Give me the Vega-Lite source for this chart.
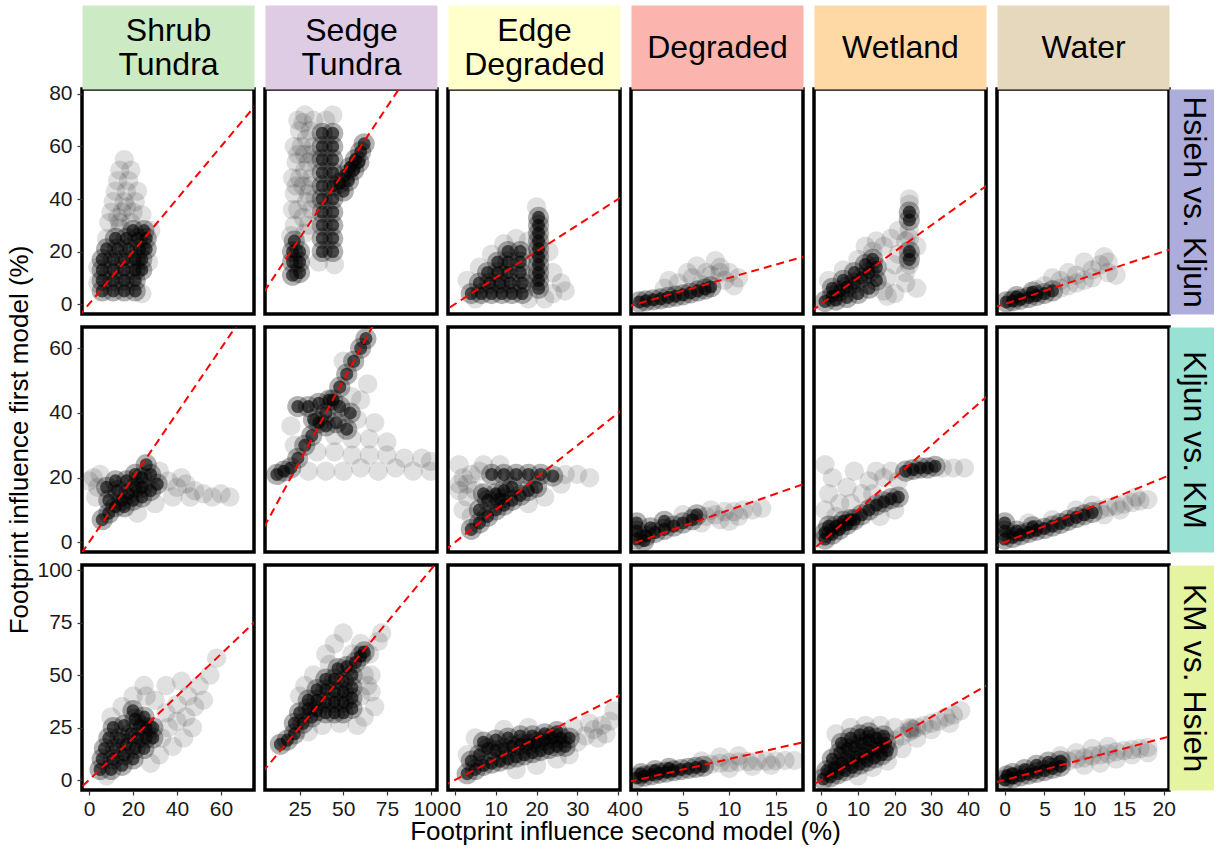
{
"$schema":"https://vega.github.io/schema/vega-lite/v6.json",
"background":"white",
"padding":{"left":4,"top":12,"right":2,"bottom":2},
"columns":6,
"spacing":{"row":13,"column":11},
"bounds":"flush",
"config":{
 "view":{"stroke":"black","strokeWidth":3.5},
 "font":"Liberation Sans",
 "axis":{"grid":false,"domain":false,"labelFont":"Liberation Sans","labelFontSize":21,"labelColor":"#1a1a1a","tickColor":"#333333","tickSize":5,"tickWidth":1.2,"labelFlush":false,"labelOverlap":false,"titleFont":"Liberation Sans","titleFontWeight":"normal","titleColor":"black","titleFontSize":26},
 "axisX":{"labelPadding":3},
 "axisY":{"labelPadding":5}
},
"datasets":{
 "oneToOne":[{"x":-20,"y":-20,"x2":200,"y2":200}],
 "hk_shrub_core":[{"x":6,"y":5},{"x":11,"y":5},{"x":16,"y":5},{"x":21,"y":5},{"x":6,"y":9},{"x":11,"y":9},{"x":16,"y":9},{"x":21,"y":9},{"x":6,"y":13},{"x":11,"y":13},{"x":16,"y":13},{"x":21,"y":13},{"x":24,"y":13},{"x":6,"y":17},{"x":11,"y":17},{"x":16,"y":17},{"x":21,"y":17},{"x":24,"y":17},{"x":8,"y":21},{"x":13,"y":21},{"x":18,"y":21},{"x":23,"y":21},{"x":26,"y":21},{"x":12,"y":25},{"x":17,"y":25},{"x":22,"y":25},{"x":26,"y":25},{"x":20,"y":28},{"x":25,"y":28}],
 "hk_shrub_halo":[{"x":9,"y":31},{"x":14,"y":31},{"x":19,"y":31},{"x":10,"y":35},{"x":15,"y":35},{"x":20,"y":35},{"x":24,"y":34},{"x":11,"y":39},{"x":16,"y":39},{"x":21,"y":39},{"x":12,"y":43},{"x":17,"y":43},{"x":22,"y":43},{"x":13,"y":47},{"x":18,"y":47},{"x":14,"y":51},{"x":19,"y":51},{"x":16,"y":55},{"x":4,"y":8},{"x":4,"y":14},{"x":27,"y":16},{"x":28,"y":28},{"x":24,"y":4},{"x":8,"y":25},{"x":14,"y":29},{"x":17,"y":37},{"x":13,"y":33}],
 "hk_sedge_core":[{"x":21,"y":11},{"x":25,"y":12},{"x":21,"y":16},{"x":25,"y":16},{"x":21,"y":20},{"x":25,"y":20},{"x":22,"y":24},{"x":38,"y":20},{"x":38,"y":25},{"x":38,"y":30},{"x":38,"y":35},{"x":38,"y":40},{"x":38,"y":45},{"x":38,"y":50},{"x":38,"y":55},{"x":38,"y":60},{"x":38,"y":65},{"x":44,"y":20},{"x":44,"y":25},{"x":44,"y":30},{"x":44,"y":35},{"x":44,"y":40},{"x":44,"y":45},{"x":44,"y":50},{"x":44,"y":55},{"x":44,"y":60},{"x":44,"y":65},{"x":48,"y":46},{"x":51,"y":49},{"x":54,"y":52},{"x":57,"y":55},{"x":60,"y":58},{"x":62,"y":61},{"x":50,"y":43},{"x":53,"y":47},{"x":56,"y":51},{"x":59,"y":54}],
 "hk_sedge_halo":[{"x":22,"y":30},{"x":30,"y":30},{"x":24,"y":36},{"x":32,"y":36},{"x":22,"y":42},{"x":30,"y":42},{"x":25,"y":48},{"x":32,"y":48},{"x":23,"y":54},{"x":30,"y":54},{"x":26,"y":60},{"x":33,"y":60},{"x":25,"y":66},{"x":31,"y":66},{"x":28,"y":72},{"x":27,"y":33},{"x":27,"y":45},{"x":28,"y":57},{"x":40,"y":70},{"x":44,"y":72},{"x":36,"y":16},{"x":45,"y":15},{"x":34,"y":40},{"x":34,"y":55},{"x":24,"y":70},{"x":20,"y":26},{"x":28,"y":27},{"x":21,"y":36},{"x":29,"y":39},{"x":21,"y":48},{"x":28,"y":51},{"x":22,"y":60},{"x":29,"y":63},{"x":27,"y":69},{"x":33,"y":70},{"x":23,"y":45},{"x":31,"y":45},{"x":24,"y":57},{"x":32,"y":57}],
 "hk_edge_core":[{"x":4,"y":4},{"x":6.5,"y":4},{"x":9,"y":4},{"x":11.5,"y":4},{"x":14,"y":4},{"x":16.5,"y":4},{"x":6,"y":8},{"x":8.5,"y":8},{"x":11,"y":8},{"x":13.5,"y":8},{"x":16.5,"y":8},{"x":8,"y":12},{"x":10.5,"y":12},{"x":13,"y":12},{"x":16,"y":12},{"x":10.5,"y":16},{"x":13,"y":16},{"x":16,"y":16},{"x":13,"y":20},{"x":16,"y":20},{"x":20.5,"y":6},{"x":20.5,"y":9},{"x":20.5,"y":12},{"x":20.5,"y":15},{"x":20.5,"y":18},{"x":20.5,"y":21},{"x":20.5,"y":24},{"x":20.5,"y":27},{"x":20.5,"y":30},{"x":20.5,"y":33}],
 "hk_edge_halo":[{"x":3,"y":9},{"x":6,"y":14},{"x":9,"y":19},{"x":12,"y":23},{"x":15,"y":25},{"x":20,"y":37},{"x":24,"y":4},{"x":26,"y":8},{"x":24,"y":12},{"x":27,"y":5},{"x":5,"y":2},{"x":18,"y":2},{"x":22,"y":2},{"x":18,"y":24},{"x":23,"y":20},{"x":19,"y":10}],
 "hk_degraded_core":[{"x":0.3,"y":0.8},{"x":1,"y":1.2},{"x":1.8,"y":1.6},{"x":2.6,"y":2},{"x":3.4,"y":2.5},{"x":4.2,"y":3},{"x":5,"y":3.5},{"x":5.8,"y":4.2},{"x":6.6,"y":5},{"x":7.4,"y":5.7},{"x":8,"y":6.5}],
 "hk_degraded_halo":[{"x":3,"y":6},{"x":4.5,"y":8},{"x":6,"y":10},{"x":7.5,"y":12},{"x":9,"y":14},{"x":8.5,"y":16.5},{"x":10,"y":12},{"x":5.5,"y":12},{"x":7,"y":7.5},{"x":9.5,"y":9},{"x":11,"y":10},{"x":3.5,"y":9},{"x":6.5,"y":14.5},{"x":10.5,"y":7},{"x":8,"y":11},{"x":9,"y":12}],
 "hk_wetland_core":[{"x":1,"y":1},{"x":3,"y":3},{"x":5,"y":5},{"x":7,"y":6.5},{"x":9,"y":8},{"x":11,"y":10},{"x":13,"y":12},{"x":15,"y":14},{"x":3,"y":6},{"x":6,"y":9},{"x":9,"y":12},{"x":12,"y":15},{"x":14,"y":17},{"x":4,"y":1.5},{"x":7,"y":2.5},{"x":10,"y":4},{"x":13,"y":6},{"x":15,"y":9},{"x":24,"y":17},{"x":24,"y":20},{"x":24,"y":32},{"x":24,"y":35}],
 "hk_wetland_halo":[{"x":17,"y":22},{"x":14,"y":20},{"x":19,"y":25},{"x":20,"y":15},{"x":18,"y":10},{"x":17,"y":5},{"x":10,"y":17},{"x":6,"y":13},{"x":21,"y":28},{"x":23,"y":24},{"x":23,"y":12},{"x":23,"y":8},{"x":24,"y":28},{"x":24,"y":38},{"x":24,"y":40},{"x":18,"y":3},{"x":26,"y":22},{"x":26,"y":6},{"x":2,"y":9},{"x":15,"y":24},{"x":12,"y":22},{"x":21,"y":19},{"x":20,"y":4},{"x":24,"y":15},{"x":24,"y":25}],
 "hk_water_core":[{"x":0.2,"y":0.8},{"x":1,"y":1.2},{"x":2,"y":1.8},{"x":3,"y":2.5},{"x":4,"y":3.2},{"x":5,"y":4},{"x":6,"y":5},{"x":1.5,"y":2.8},{"x":3.5,"y":4.5}],
 "hk_water_halo":[{"x":5,"y":7},{"x":7,"y":6},{"x":7,"y":9},{"x":9,"y":8},{"x":9,"y":11},{"x":11,"y":10},{"x":11,"y":13},{"x":12,"y":15},{"x":13,"y":12},{"x":8,"y":12},{"x":10,"y":16},{"x":6,"y":10},{"x":4,"y":5.5},{"x":13,"y":16},{"x":12.5,"y":18},{"x":14,"y":11},{"x":8,"y":7},{"x":10,"y":9}],
 "kk_shrub_core":[{"x":6,"y":7},{"x":9,"y":9},{"x":12,"y":11},{"x":15,"y":13},{"x":18,"y":15},{"x":21,"y":17},{"x":24,"y":20},{"x":26,"y":24},{"x":9,"y":13},{"x":13,"y":16},{"x":17,"y":19},{"x":21,"y":21},{"x":16,"y":11},{"x":20,"y":13},{"x":24,"y":14},{"x":28,"y":16},{"x":31,"y":18},{"x":28,"y":21},{"x":24,"y":17},{"x":12,"y":19},{"x":8,"y":17}],
 "kk_shrub_halo":[{"x":2,"y":20},{"x":4,"y":17},{"x":0,"y":19},{"x":36,"y":19},{"x":40,"y":17},{"x":44,"y":18},{"x":48,"y":16},{"x":52,"y":15},{"x":56,"y":14},{"x":60,"y":15},{"x":64,"y":14},{"x":38,"y":14},{"x":46,"y":14},{"x":30,"y":12},{"x":22,"y":9},{"x":5,"y":21},{"x":32,"y":22},{"x":42,"y":20},{"x":3,"y":14}],
 "kk_sedge_core":[{"x":12,"y":21},{"x":16,"y":22},{"x":20,"y":23},{"x":24,"y":26},{"x":28,"y":30},{"x":32,"y":33},{"x":36,"y":37},{"x":40,"y":40},{"x":44,"y":44},{"x":48,"y":48},{"x":52,"y":52},{"x":56,"y":56},{"x":60,"y":60},{"x":63,"y":63},{"x":24,"y":42},{"x":30,"y":42},{"x":36,"y":43},{"x":42,"y":44},{"x":48,"y":42},{"x":54,"y":40},{"x":33,"y":38},{"x":40,"y":36},{"x":46,"y":37},{"x":52,"y":35}],
 "kk_sedge_halo":[{"x":30,"y":22},{"x":40,"y":22},{"x":50,"y":22},{"x":60,"y":23},{"x":70,"y":22},{"x":80,"y":23},{"x":90,"y":22},{"x":100,"y":22},{"x":35,"y":28},{"x":45,"y":28},{"x":55,"y":27},{"x":65,"y":27},{"x":75,"y":27},{"x":85,"y":26},{"x":95,"y":26},{"x":45,"y":33},{"x":55,"y":32},{"x":65,"y":32},{"x":75,"y":31},{"x":58,"y":38},{"x":68,"y":37},{"x":55,"y":45},{"x":22,"y":30},{"x":20,"y":36},{"x":50,"y":56},{"x":64,"y":49},{"x":100,"y":25},{"x":60,"y":44}],
 "kk_edge_core":[{"x":9,"y":21},{"x":12,"y":21},{"x":15,"y":21},{"x":18,"y":21},{"x":21,"y":21},{"x":24,"y":20.5},{"x":4,"y":4},{"x":6,"y":6},{"x":8,"y":8},{"x":10,"y":10},{"x":12,"y":11.5},{"x":14,"y":13},{"x":16,"y":14.5},{"x":18,"y":16},{"x":20,"y":17},{"x":6,"y":10},{"x":8,"y":13},{"x":10,"y":15},{"x":12,"y":16},{"x":14,"y":17},{"x":7,"y":15},{"x":11,"y":13.5}],
 "kk_edge_halo":[{"x":1,"y":24},{"x":2,"y":20},{"x":4,"y":21},{"x":6,"y":22},{"x":1,"y":16},{"x":3,"y":14},{"x":5,"y":16},{"x":2,"y":10},{"x":4,"y":8},{"x":27,"y":21},{"x":30,"y":21},{"x":33,"y":20},{"x":26,"y":18},{"x":22,"y":14},{"x":18,"y":12},{"x":1,"y":18},{"x":3,"y":18},{"x":7,"y":24},{"x":11,"y":24}],
 "kk_degraded_core":[{"x":0,"y":1},{"x":0,"y":3.5},{"x":0,"y":6},{"x":1,"y":2},{"x":1.5,"y":4.5},{"x":2,"y":3},{"x":3,"y":4},{"x":4,"y":5},{"x":5,"y":6},{"x":6,"y":7},{"x":6.5,"y":8.5},{"x":3,"y":6.5},{"x":0.8,"y":0.5}],
 "kk_degraded_halo":[{"x":7.5,"y":8},{"x":8.5,"y":8.5},{"x":9.5,"y":9.5},{"x":10.5,"y":9.5},{"x":11.5,"y":10},{"x":12.5,"y":10},{"x":13.5,"y":10.5},{"x":9,"y":7},{"x":11,"y":8},{"x":8,"y":10},{"x":5,"y":8.5},{"x":10,"y":6.5},{"x":7,"y":6}],
 "kk_wetland_core":[{"x":1,"y":1},{"x":3,"y":2.5},{"x":5,"y":4},{"x":7,"y":5.5},{"x":9,"y":7},{"x":11,"y":8.5},{"x":13,"y":10},{"x":15,"y":11.5},{"x":17,"y":12.5},{"x":19,"y":13.5},{"x":21,"y":14},{"x":4,"y":5},{"x":8,"y":7},{"x":1,"y":3},{"x":2,"y":5},{"x":6,"y":6.5},{"x":23,"y":22},{"x":25,"y":22.5},{"x":27,"y":23},{"x":29,"y":23},{"x":31,"y":23.5}],
 "kk_wetland_halo":[{"x":1,"y":10},{"x":2,"y":15},{"x":3,"y":20},{"x":1,"y":24},{"x":5,"y":12},{"x":7,"y":17},{"x":9,"y":22},{"x":11,"y":15},{"x":13,"y":19},{"x":15,"y":22},{"x":17,"y":20},{"x":19,"y":22},{"x":21,"y":19},{"x":8,"y":12},{"x":4,"y":8},{"x":14,"y":15},{"x":33,"y":23},{"x":36,"y":23},{"x":39,"y":23},{"x":20,"y":10},{"x":16,"y":8}],
 "kk_water_core":[{"x":0,"y":1},{"x":0,"y":3.5},{"x":0,"y":6},{"x":1,"y":1.5},{"x":2,"y":2.3},{"x":3,"y":3},{"x":4,"y":3.7},{"x":5,"y":4.3},{"x":6,"y":5},{"x":7,"y":5.8},{"x":8,"y":6.8},{"x":9,"y":7.7},{"x":10,"y":8.5},{"x":1.5,"y":3.5},{"x":3.5,"y":4.8},{"x":11,"y":9.2}],
 "kk_water_halo":[{"x":12,"y":10},{"x":13,"y":10.8},{"x":14,"y":11.3},{"x":15,"y":11.8},{"x":16,"y":12.3},{"x":17,"y":12.8},{"x":18,"y":13.2},{"x":12.5,"y":8.5},{"x":14.5,"y":10},{"x":9,"y":10},{"x":6,"y":7},{"x":3,"y":6},{"x":16.5,"y":14},{"x":11,"y":11.5}],
 "kh_shrub_core":[{"x":5,"y":5},{"x":10,"y":5},{"x":15,"y":7},{"x":20,"y":10},{"x":25,"y":15},{"x":29,"y":20},{"x":29,"y":25},{"x":6,"y":10},{"x":11,"y":10},{"x":16,"y":12},{"x":21,"y":15},{"x":26,"y":20},{"x":7,"y":15},{"x":12,"y":15},{"x":17,"y":17},{"x":22,"y":20},{"x":26,"y":25},{"x":9,"y":20},{"x":14,"y":20},{"x":19,"y":22},{"x":23,"y":26},{"x":11,"y":25},{"x":16,"y":26},{"x":21,"y":29},{"x":25,"y":30},{"x":20,"y":33}],
 "kh_shrub_halo":[{"x":33,"y":20},{"x":36,"y":25},{"x":40,"y":28},{"x":44,"y":30},{"x":48,"y":35},{"x":35,"y":32},{"x":40,"y":36},{"x":45,"y":40},{"x":50,"y":45},{"x":38,"y":16},{"x":43,"y":20},{"x":47,"y":25},{"x":52,"y":38},{"x":55,"y":50},{"x":30,"y":38},{"x":26,"y":40},{"x":32,"y":12},{"x":15,"y":35},{"x":20,"y":40},{"x":25,"y":45},{"x":35,"y":45},{"x":42,"y":47},{"x":58,"y":58},{"x":28,"y":8},{"x":10,"y":30},{"x":8,"y":2}],
 "kh_sedge_core":[{"x":14,"y":17},{"x":18,"y":19},{"x":22,"y":22},{"x":22,"y":27},{"x":27,"y":27},{"x":32,"y":30},{"x":25,"y":32},{"x":30,"y":34},{"x":35,"y":33},{"x":40,"y":32},{"x":45,"y":32},{"x":50,"y":32},{"x":55,"y":34},{"x":30,"y":38},{"x":35,"y":38},{"x":40,"y":37},{"x":45,"y":37},{"x":50,"y":37},{"x":55,"y":39},{"x":35,"y":43},{"x":40,"y":43},{"x":45,"y":42},{"x":50,"y":42},{"x":55,"y":44},{"x":40,"y":48},{"x":45,"y":48},{"x":50,"y":47},{"x":55,"y":50},{"x":47,"y":53},{"x":52,"y":54},{"x":57,"y":56},{"x":60,"y":59},{"x":62,"y":61}],
 "kh_sedge_halo":[{"x":60,"y":40},{"x":64,"y":45},{"x":66,"y":50},{"x":68,"y":35},{"x":62,"y":30},{"x":58,"y":26},{"x":48,"y":27},{"x":38,"y":26},{"x":30,"y":23},{"x":24,"y":24},{"x":28,"y":45},{"x":33,"y":50},{"x":42,"y":55},{"x":60,"y":65},{"x":65,"y":60},{"x":70,"y":66},{"x":72,"y":70},{"x":55,"y":60},{"x":25,"y":40},{"x":40,"y":60},{"x":45,"y":65},{"x":50,"y":70},{"x":66,"y":42},{"x":62,"y":50}],
 "kh_edge_core":[{"x":3,"y":3},{"x":5,"y":5},{"x":7,"y":7},{"x":9,"y":8},{"x":11,"y":9},{"x":13,"y":10},{"x":15,"y":11},{"x":17,"y":12},{"x":19,"y":13},{"x":21,"y":14},{"x":23,"y":15},{"x":25,"y":16},{"x":27,"y":16},{"x":4,"y":9},{"x":6,"y":12},{"x":8,"y":15},{"x":10,"y":14},{"x":12,"y":15},{"x":14,"y":16},{"x":16,"y":17},{"x":18,"y":17},{"x":20,"y":18},{"x":22,"y":19},{"x":24,"y":20},{"x":26,"y":20},{"x":28,"y":20},{"x":7,"y":18},{"x":10,"y":19},{"x":13,"y":20},{"x":16,"y":21},{"x":19,"y":21},{"x":22,"y":22},{"x":25,"y":23}],
 "kh_edge_halo":[{"x":30,"y":18},{"x":32,"y":21},{"x":34,"y":24},{"x":36,"y":26},{"x":38,"y":28},{"x":35,"y":20},{"x":29,"y":25},{"x":33,"y":27},{"x":15,"y":5},{"x":20,"y":7},{"x":25,"y":10},{"x":12,"y":24},{"x":18,"y":25},{"x":5,"y":20},{"x":3,"y":12},{"x":39,"y":33},{"x":37,"y":22},{"x":28,"y":12}],
 "kh_degraded_core":[{"x":0,"y":1},{"x":0.8,"y":1.8},{"x":1.6,"y":2.5},{"x":2.4,"y":3.2},{"x":3.2,"y":3.8},{"x":4,"y":4.4},{"x":4.8,"y":5},{"x":5.6,"y":5.5},{"x":6.4,"y":6},{"x":7.2,"y":6.5},{"x":0.5,"y":3},{"x":2,"y":4.5},{"x":3.5,"y":5.5}],
 "kh_degraded_halo":[{"x":8,"y":7.5},{"x":9,"y":8},{"x":10,"y":8.3},{"x":11,"y":8.6},{"x":12,"y":8.8},{"x":13,"y":9},{"x":14,"y":9},{"x":15,"y":9.2},{"x":16,"y":9.3},{"x":17,"y":9.3},{"x":9,"y":11},{"x":11,"y":11.5},{"x":10,"y":5.5},{"x":12.5,"y":6.5},{"x":14.5,"y":7},{"x":7,"y":9}],
 "kh_wetland_core":[{"x":0.5,"y":0.5},{"x":2.5,"y":1.5},{"x":4.5,"y":3},{"x":6.5,"y":4.5},{"x":8.5,"y":6},{"x":10.5,"y":7.5},{"x":12.5,"y":9},{"x":14.5,"y":10.5},{"x":16.5,"y":12},{"x":18,"y":14},{"x":1.5,"y":4.5},{"x":3.5,"y":6},{"x":5.5,"y":8},{"x":7.5,"y":9.5},{"x":9.5,"y":11},{"x":11.5,"y":12.5},{"x":13.5,"y":14},{"x":15.5,"y":15.5},{"x":17.5,"y":17.5},{"x":3,"y":10},{"x":5,"y":13},{"x":7,"y":15},{"x":9,"y":16},{"x":11,"y":17.5},{"x":13,"y":19},{"x":15,"y":20},{"x":17,"y":21},{"x":5.5,"y":17.5},{"x":8,"y":20},{"x":10.5,"y":21.5},{"x":13,"y":22.5}],
 "kh_wetland_halo":[{"x":20,"y":19},{"x":22,"y":21},{"x":24,"y":23},{"x":24.5,"y":24.5},{"x":26,"y":25},{"x":28,"y":26},{"x":30,"y":27},{"x":32,"y":28},{"x":34,"y":30},{"x":36,"y":31},{"x":38,"y":33},{"x":20,"y":25},{"x":16,"y":26},{"x":12,"y":26},{"x":8,"y":25},{"x":4,"y":22},{"x":22,"y":15},{"x":26,"y":20},{"x":30,"y":24},{"x":14,"y":6},{"x":18,"y":9},{"x":35,"y":27},{"x":10,"y":2},{"x":24,"y":25},{"x":25,"y":24}],
 "kh_water_core":[{"x":0,"y":0},{"x":1,"y":1},{"x":2,"y":2},{"x":3,"y":2.8},{"x":4,"y":3.6},{"x":5,"y":4.5},{"x":6,"y":5.5},{"x":7,"y":6.5},{"x":1,"y":3},{"x":2.5,"y":5},{"x":4,"y":7},{"x":5.5,"y":8.5},{"x":7,"y":9},{"x":0.3,"y":2}],
 "kh_water_halo":[{"x":8,"y":9},{"x":9,"y":10},{"x":10,"y":10.5},{"x":11,"y":11.5},{"x":12,"y":12},{"x":13,"y":12.5},{"x":14,"y":13.5},{"x":15,"y":14},{"x":16,"y":14.5},{"x":17,"y":15},{"x":18,"y":15.5},{"x":9,"y":13},{"x":11,"y":15},{"x":13,"y":16},{"x":10,"y":7},{"x":12,"y":8},{"x":14,"y":10},{"x":16,"y":12},{"x":7,"y":11.5},{"x":18,"y":13}]
},
"concat":[
 {"width":172,"height":225,
  "encoding":{"x":{"field":"x","type":"quantitative","scale":{"domain":[-3.2,75],"nice":false,"zero":false},"axis":{"orient":"top","domain":true,"domainWidth":84,"domainColor":"#CCEBC5","offset":42,"ticks":false,"labels":false,"title":["Shrub","Tundra"],"titleFontSize":32,"titleLineHeight":34,"titleBaseline":"middle","titleY":-17}},
   "y":{"field":"y","type":"quantitative","scale":{"domain":[-3.8,81.9],"nice":false,"zero":false},"axis":{"orient":"left","values":[0,20,40,60,80],"title":null}}},
  "layer":[
   {"data":{"name":"hk_shrub_halo"},"mark":{"type":"circle","size":380,"color":"black","opacity":0.12,"clip":true}},
   {"data":{"name":"hk_shrub_core"},"mark":{"type":"circle","size":450,"color":"black","opacity":0.3,"clip":true}},
   {"data":{"name":"hk_shrub_core"},"mark":{"type":"circle","size":170,"color":"black","opacity":0.6,"clip":true}},
   {"data":{"name":"oneToOne"},"mark":{"type":"rule","color":"red","strokeWidth":2,"strokeDash":[8,5],"clip":true},"encoding":{"x2":{"field":"x2"},"y2":{"field":"y2"}}}]},
 {"width":172,"height":225,
  "encoding":{"x":{"field":"x","type":"quantitative","scale":{"domain":[5.2,103.7],"nice":false,"zero":false},"axis":{"orient":"top","domain":true,"domainWidth":84,"domainColor":"#DECBE4","offset":42,"ticks":false,"labels":false,"title":["Sedge","Tundra"],"titleFontSize":32,"titleLineHeight":34,"titleBaseline":"middle","titleY":-17}},
   "y":{"field":"y","type":"quantitative","scale":{"domain":[-3.8,81.9],"nice":false,"zero":false},"axis":null}},
  "layer":[
   {"data":{"name":"hk_sedge_halo"},"mark":{"type":"circle","size":380,"color":"black","opacity":0.12,"clip":true}},
   {"data":{"name":"hk_sedge_core"},"mark":{"type":"circle","size":450,"color":"black","opacity":0.3,"clip":true}},
   {"data":{"name":"hk_sedge_core"},"mark":{"type":"circle","size":170,"color":"black","opacity":0.6,"clip":true}},
   {"data":{"name":"oneToOne"},"mark":{"type":"rule","color":"red","strokeWidth":2,"strokeDash":[8,5],"clip":true},"encoding":{"x2":{"field":"x2"},"y2":{"field":"y2"}}}]},
 {"width":172,"height":225,
  "encoding":{"x":{"field":"x","type":"quantitative","scale":{"domain":[-1.7,40.45],"nice":false,"zero":false},"axis":{"orient":"top","domain":true,"domainWidth":84,"domainColor":"#FFFFCC","offset":42,"ticks":false,"labels":false,"title":["Edge","Degraded"],"titleFontSize":32,"titleLineHeight":34,"titleBaseline":"middle","titleY":-17}},
   "y":{"field":"y","type":"quantitative","scale":{"domain":[-3.8,81.9],"nice":false,"zero":false},"axis":null}},
  "layer":[
   {"data":{"name":"hk_edge_halo"},"mark":{"type":"circle","size":380,"color":"black","opacity":0.12,"clip":true}},
   {"data":{"name":"hk_edge_core"},"mark":{"type":"circle","size":450,"color":"black","opacity":0.3,"clip":true}},
   {"data":{"name":"hk_edge_core"},"mark":{"type":"circle","size":170,"color":"black","opacity":0.6,"clip":true}},
   {"data":{"name":"oneToOne"},"mark":{"type":"rule","color":"red","strokeWidth":2,"strokeDash":[8,5],"clip":true},"encoding":{"x2":{"field":"x2"},"y2":{"field":"y2"}}}]},
 {"width":172,"height":225,
  "encoding":{"x":{"field":"x","type":"quantitative","scale":{"domain":[-0.6,17.95],"nice":false,"zero":false},"axis":{"orient":"top","domain":true,"domainWidth":84,"domainColor":"#FBB4AE","offset":42,"ticks":false,"labels":false,"title":"Degraded","titleFontSize":32,"titleBaseline":"middle","titleY":0}},
   "y":{"field":"y","type":"quantitative","scale":{"domain":[-3.8,81.9],"nice":false,"zero":false},"axis":null}},
  "layer":[
   {"data":{"name":"hk_degraded_halo"},"mark":{"type":"circle","size":380,"color":"black","opacity":0.12,"clip":true}},
   {"data":{"name":"hk_degraded_core"},"mark":{"type":"circle","size":450,"color":"black","opacity":0.3,"clip":true}},
   {"data":{"name":"hk_degraded_core"},"mark":{"type":"circle","size":170,"color":"black","opacity":0.6,"clip":true}},
   {"data":{"name":"oneToOne"},"mark":{"type":"rule","color":"red","strokeWidth":2,"strokeDash":[8,5],"clip":true},"encoding":{"x2":{"field":"x2"},"y2":{"field":"y2"}}}]},
 {"width":172,"height":225,
  "encoding":{"x":{"field":"x","type":"quantitative","scale":{"domain":[-2,44.9],"nice":false,"zero":false},"axis":{"orient":"top","domain":true,"domainWidth":84,"domainColor":"#FED9A6","offset":42,"ticks":false,"labels":false,"title":"Wetland","titleFontSize":32,"titleBaseline":"middle","titleY":0}},
   "y":{"field":"y","type":"quantitative","scale":{"domain":[-3.8,81.9],"nice":false,"zero":false},"axis":null}},
  "layer":[
   {"data":{"name":"hk_wetland_halo"},"mark":{"type":"circle","size":380,"color":"black","opacity":0.12,"clip":true}},
   {"data":{"name":"hk_wetland_core"},"mark":{"type":"circle","size":450,"color":"black","opacity":0.3,"clip":true}},
   {"data":{"name":"hk_wetland_core"},"mark":{"type":"circle","size":170,"color":"black","opacity":0.6,"clip":true}},
   {"data":{"name":"oneToOne"},"mark":{"type":"rule","color":"red","strokeWidth":2,"strokeDash":[8,5],"clip":true},"encoding":{"x2":{"field":"x2"},"y2":{"field":"y2"}}}]},
 {"width":172,"height":225,
  "encoding":{"x":{"field":"x","type":"quantitative","scale":{"domain":[-0.97,20.66],"nice":false,"zero":false},"axis":{"orient":"top","domain":true,"domainWidth":84,"domainColor":"#E5D8BD","offset":42,"ticks":false,"labels":false,"title":"Water","titleFontSize":32,"titleBaseline":"middle","titleY":0}},
   "y":{"field":"y","type":"quantitative","scale":{"domain":[-3.8,81.9],"nice":false,"zero":false},"axis":{"orient":"right","domain":true,"domainWidth":49,"domainColor":"#ADADDC","offset":24.5,"ticks":false,"labels":false,"title":"Hsieh vs. Kljun","titleFontSize":32,"titleAngle":90,"titleBaseline":"middle","titleX":0}}},
  "layer":[
   {"data":{"name":"hk_water_halo"},"mark":{"type":"circle","size":380,"color":"black","opacity":0.12,"clip":true}},
   {"data":{"name":"hk_water_core"},"mark":{"type":"circle","size":450,"color":"black","opacity":0.3,"clip":true}},
   {"data":{"name":"hk_water_core"},"mark":{"type":"circle","size":170,"color":"black","opacity":0.6,"clip":true}},
   {"data":{"name":"oneToOne"},"mark":{"type":"rule","color":"red","strokeWidth":2,"strokeDash":[8,5],"clip":true},"encoding":{"x2":{"field":"x2"},"y2":{"field":"y2"}}}]},

 {"width":172,"height":225,
  "encoding":{"x":{"field":"x","type":"quantitative","scale":{"domain":[-3.2,75],"nice":false,"zero":false},"axis":null},
   "y":{"field":"y","type":"quantitative","scale":{"domain":[-3.0,66.6],"nice":false,"zero":false},"axis":{"orient":"left","values":[0,20,40,60],"title":"Footprint influence first model (%)","titleX":-55,"titleBaseline":"alphabetic","titleAngle":270}}},
  "layer":[
   {"data":{"name":"kk_shrub_halo"},"mark":{"type":"circle","size":380,"color":"black","opacity":0.12,"clip":true}},
   {"data":{"name":"kk_shrub_core"},"mark":{"type":"circle","size":450,"color":"black","opacity":0.3,"clip":true}},
   {"data":{"name":"kk_shrub_core"},"mark":{"type":"circle","size":170,"color":"black","opacity":0.6,"clip":true}},
   {"data":{"name":"oneToOne"},"mark":{"type":"rule","color":"red","strokeWidth":2,"strokeDash":[8,5],"clip":true},"encoding":{"x2":{"field":"x2"},"y2":{"field":"y2"}}}]},
 {"width":172,"height":225,
  "encoding":{"x":{"field":"x","type":"quantitative","scale":{"domain":[5.2,103.7],"nice":false,"zero":false},"axis":null},
   "y":{"field":"y","type":"quantitative","scale":{"domain":[-3.0,66.6],"nice":false,"zero":false},"axis":null}},
  "layer":[
   {"data":{"name":"kk_sedge_halo"},"mark":{"type":"circle","size":380,"color":"black","opacity":0.12,"clip":true}},
   {"data":{"name":"kk_sedge_core"},"mark":{"type":"circle","size":450,"color":"black","opacity":0.3,"clip":true}},
   {"data":{"name":"kk_sedge_core"},"mark":{"type":"circle","size":170,"color":"black","opacity":0.6,"clip":true}},
   {"data":{"name":"oneToOne"},"mark":{"type":"rule","color":"red","strokeWidth":2,"strokeDash":[8,5],"clip":true},"encoding":{"x2":{"field":"x2"},"y2":{"field":"y2"}}}]},
 {"width":172,"height":225,
  "encoding":{"x":{"field":"x","type":"quantitative","scale":{"domain":[-1.7,40.45],"nice":false,"zero":false},"axis":null},
   "y":{"field":"y","type":"quantitative","scale":{"domain":[-3.0,66.6],"nice":false,"zero":false},"axis":null}},
  "layer":[
   {"data":{"name":"kk_edge_halo"},"mark":{"type":"circle","size":380,"color":"black","opacity":0.12,"clip":true}},
   {"data":{"name":"kk_edge_core"},"mark":{"type":"circle","size":450,"color":"black","opacity":0.3,"clip":true}},
   {"data":{"name":"kk_edge_core"},"mark":{"type":"circle","size":170,"color":"black","opacity":0.6,"clip":true}},
   {"data":{"name":"oneToOne"},"mark":{"type":"rule","color":"red","strokeWidth":2,"strokeDash":[8,5],"clip":true},"encoding":{"x2":{"field":"x2"},"y2":{"field":"y2"}}}]},
 {"width":172,"height":225,
  "encoding":{"x":{"field":"x","type":"quantitative","scale":{"domain":[-0.6,17.95],"nice":false,"zero":false},"axis":null},
   "y":{"field":"y","type":"quantitative","scale":{"domain":[-3.0,66.6],"nice":false,"zero":false},"axis":null}},
  "layer":[
   {"data":{"name":"kk_degraded_halo"},"mark":{"type":"circle","size":380,"color":"black","opacity":0.12,"clip":true}},
   {"data":{"name":"kk_degraded_core"},"mark":{"type":"circle","size":450,"color":"black","opacity":0.3,"clip":true}},
   {"data":{"name":"kk_degraded_core"},"mark":{"type":"circle","size":170,"color":"black","opacity":0.6,"clip":true}},
   {"data":{"name":"oneToOne"},"mark":{"type":"rule","color":"red","strokeWidth":2,"strokeDash":[8,5],"clip":true},"encoding":{"x2":{"field":"x2"},"y2":{"field":"y2"}}}]},
 {"width":172,"height":225,
  "encoding":{"x":{"field":"x","type":"quantitative","scale":{"domain":[-2,44.9],"nice":false,"zero":false},"axis":null},
   "y":{"field":"y","type":"quantitative","scale":{"domain":[-3.0,66.6],"nice":false,"zero":false},"axis":null}},
  "layer":[
   {"data":{"name":"kk_wetland_halo"},"mark":{"type":"circle","size":380,"color":"black","opacity":0.12,"clip":true}},
   {"data":{"name":"kk_wetland_core"},"mark":{"type":"circle","size":450,"color":"black","opacity":0.3,"clip":true}},
   {"data":{"name":"kk_wetland_core"},"mark":{"type":"circle","size":170,"color":"black","opacity":0.6,"clip":true}},
   {"data":{"name":"oneToOne"},"mark":{"type":"rule","color":"red","strokeWidth":2,"strokeDash":[8,5],"clip":true},"encoding":{"x2":{"field":"x2"},"y2":{"field":"y2"}}}]},
 {"width":172,"height":225,
  "encoding":{"x":{"field":"x","type":"quantitative","scale":{"domain":[-0.97,20.66],"nice":false,"zero":false},"axis":null},
   "y":{"field":"y","type":"quantitative","scale":{"domain":[-3.0,66.6],"nice":false,"zero":false},"axis":{"orient":"right","domain":true,"domainWidth":49,"domainColor":"#98E1D3","offset":24.5,"ticks":false,"labels":false,"title":"Kljun vs. KM","titleFontSize":32,"titleAngle":90,"titleBaseline":"middle","titleX":0}}},
  "layer":[
   {"data":{"name":"kk_water_halo"},"mark":{"type":"circle","size":380,"color":"black","opacity":0.12,"clip":true}},
   {"data":{"name":"kk_water_core"},"mark":{"type":"circle","size":450,"color":"black","opacity":0.3,"clip":true}},
   {"data":{"name":"kk_water_core"},"mark":{"type":"circle","size":170,"color":"black","opacity":0.6,"clip":true}},
   {"data":{"name":"oneToOne"},"mark":{"type":"rule","color":"red","strokeWidth":2,"strokeDash":[8,5],"clip":true},"encoding":{"x2":{"field":"x2"},"y2":{"field":"y2"}}}]},

 {"width":172,"height":225,
  "encoding":{"x":{"field":"x","type":"quantitative","scale":{"domain":[-3.2,75],"nice":false,"zero":false},"axis":{"orient":"bottom","values":[0,20,40,60],"title":null}},
   "y":{"field":"y","type":"quantitative","scale":{"domain":[-4.76,102.4],"nice":false,"zero":false},"axis":{"orient":"left","values":[0,25,50,75,100],"title":null}}},
  "layer":[
   {"data":{"name":"kh_shrub_halo"},"mark":{"type":"circle","size":380,"color":"black","opacity":0.12,"clip":true}},
   {"data":{"name":"kh_shrub_core"},"mark":{"type":"circle","size":450,"color":"black","opacity":0.3,"clip":true}},
   {"data":{"name":"kh_shrub_core"},"mark":{"type":"circle","size":170,"color":"black","opacity":0.6,"clip":true}},
   {"data":{"name":"oneToOne"},"mark":{"type":"rule","color":"red","strokeWidth":2,"strokeDash":[8,5],"clip":true},"encoding":{"x2":{"field":"x2"},"y2":{"field":"y2"}}}]},
 {"width":172,"height":225,
  "encoding":{"x":{"field":"x","type":"quantitative","scale":{"domain":[5.2,103.7],"nice":false,"zero":false},"axis":{"orient":"bottom","values":[25,50,75,100],"title":null}},
   "y":{"field":"y","type":"quantitative","scale":{"domain":[-4.76,102.4],"nice":false,"zero":false},"axis":null}},
  "layer":[
   {"data":{"name":"kh_sedge_halo"},"mark":{"type":"circle","size":380,"color":"black","opacity":0.12,"clip":true}},
   {"data":{"name":"kh_sedge_core"},"mark":{"type":"circle","size":450,"color":"black","opacity":0.3,"clip":true}},
   {"data":{"name":"kh_sedge_core"},"mark":{"type":"circle","size":170,"color":"black","opacity":0.6,"clip":true}},
   {"data":{"name":"oneToOne"},"mark":{"type":"rule","color":"red","strokeWidth":2,"strokeDash":[8,5],"clip":true},"encoding":{"x2":{"field":"x2"},"y2":{"field":"y2"}}}]},
 {"width":172,"height":225,
  "encoding":{"x":{"field":"x","type":"quantitative","scale":{"domain":[-1.7,40.45],"nice":false,"zero":false},"axis":{"orient":"bottom","values":[0,10,20,30,40],"title":"Footprint influence second model (%)","titleX":177,"titleY":49,"titleBaseline":"alphabetic"}},
   "y":{"field":"y","type":"quantitative","scale":{"domain":[-4.76,102.4],"nice":false,"zero":false},"axis":null}},
  "layer":[
   {"data":{"name":"kh_edge_halo"},"mark":{"type":"circle","size":380,"color":"black","opacity":0.12,"clip":true}},
   {"data":{"name":"kh_edge_core"},"mark":{"type":"circle","size":450,"color":"black","opacity":0.3,"clip":true}},
   {"data":{"name":"kh_edge_core"},"mark":{"type":"circle","size":170,"color":"black","opacity":0.6,"clip":true}},
   {"data":{"name":"oneToOne"},"mark":{"type":"rule","color":"red","strokeWidth":2,"strokeDash":[8,5],"clip":true},"encoding":{"x2":{"field":"x2"},"y2":{"field":"y2"}}}]},
 {"width":172,"height":225,
  "encoding":{"x":{"field":"x","type":"quantitative","scale":{"domain":[-0.6,17.95],"nice":false,"zero":false},"axis":{"orient":"bottom","values":[0,5,10,15],"title":null}},
   "y":{"field":"y","type":"quantitative","scale":{"domain":[-4.76,102.4],"nice":false,"zero":false},"axis":null}},
  "layer":[
   {"data":{"name":"kh_degraded_halo"},"mark":{"type":"circle","size":380,"color":"black","opacity":0.12,"clip":true}},
   {"data":{"name":"kh_degraded_core"},"mark":{"type":"circle","size":450,"color":"black","opacity":0.3,"clip":true}},
   {"data":{"name":"kh_degraded_core"},"mark":{"type":"circle","size":170,"color":"black","opacity":0.6,"clip":true}},
   {"data":{"name":"oneToOne"},"mark":{"type":"rule","color":"red","strokeWidth":2,"strokeDash":[8,5],"clip":true},"encoding":{"x2":{"field":"x2"},"y2":{"field":"y2"}}}]},
 {"width":172,"height":225,
  "encoding":{"x":{"field":"x","type":"quantitative","scale":{"domain":[-2,44.9],"nice":false,"zero":false},"axis":{"orient":"bottom","values":[0,10,20,30,40],"title":null}},
   "y":{"field":"y","type":"quantitative","scale":{"domain":[-4.76,102.4],"nice":false,"zero":false},"axis":null}},
  "layer":[
   {"data":{"name":"kh_wetland_halo"},"mark":{"type":"circle","size":380,"color":"black","opacity":0.12,"clip":true}},
   {"data":{"name":"kh_wetland_core"},"mark":{"type":"circle","size":450,"color":"black","opacity":0.3,"clip":true}},
   {"data":{"name":"kh_wetland_core"},"mark":{"type":"circle","size":170,"color":"black","opacity":0.6,"clip":true}},
   {"data":{"name":"oneToOne"},"mark":{"type":"rule","color":"red","strokeWidth":2,"strokeDash":[8,5],"clip":true},"encoding":{"x2":{"field":"x2"},"y2":{"field":"y2"}}}]},
 {"width":172,"height":225,
  "encoding":{"x":{"field":"x","type":"quantitative","scale":{"domain":[-0.97,20.66],"nice":false,"zero":false},"axis":{"orient":"bottom","values":[0,5,10,15,20],"title":null}},
   "y":{"field":"y","type":"quantitative","scale":{"domain":[-4.76,102.4],"nice":false,"zero":false},"axis":{"orient":"right","domain":true,"domainWidth":49,"domainColor":"#E5F4A1","offset":24.5,"ticks":false,"labels":false,"title":"KM vs. Hsieh","titleFontSize":32,"titleAngle":90,"titleBaseline":"middle","titleX":0}}},
  "layer":[
   {"data":{"name":"kh_water_halo"},"mark":{"type":"circle","size":380,"color":"black","opacity":0.12,"clip":true}},
   {"data":{"name":"kh_water_core"},"mark":{"type":"circle","size":450,"color":"black","opacity":0.3,"clip":true}},
   {"data":{"name":"kh_water_core"},"mark":{"type":"circle","size":170,"color":"black","opacity":0.6,"clip":true}},
   {"data":{"name":"oneToOne"},"mark":{"type":"rule","color":"red","strokeWidth":2,"strokeDash":[8,5],"clip":true},"encoding":{"x2":{"field":"x2"},"y2":{"field":"y2"}}}]}
]
}
